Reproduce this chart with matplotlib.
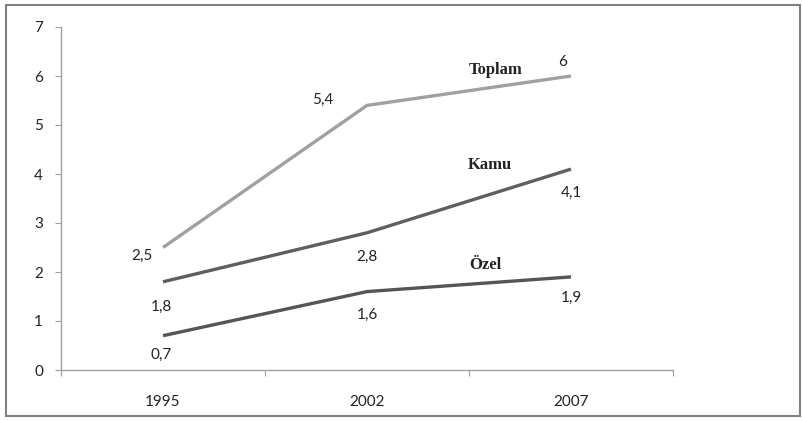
"""Toplam / Kamu / Özel line chart, 1995-2007."""
import matplotlib
matplotlib.use("Agg")
import matplotlib.pyplot as plt
from matplotlib.patches import Rectangle

years = ["1995", "2002", "2007"]
toplam = [2.5, 5.4, 6.0]
kamu = [1.8, 2.8, 4.1]
ozel = [0.7, 1.6, 1.9]
series_names = ["Toplam", "Kamu", "Özel"]

# value label offsets (points) per series, per point
offsets = {
    "Toplam": [(-15, -6), (-32, 4), (-6, 10)],
    "Kamu": [(-1, -18), (0, -17), (0, -17)],
    "Özel": [(-1, -14), (0, -17), (0, -15)],
}
name_pos = {"Toplam": (1.63, 6.12), "Kamu": (1.60, 4.18), "Özel": (1.58, 2.14)}
colors = {"Toplam": "#a0a0a0", "Kamu": "#5f5f5f", "Özel": "#555555"}

plt.rcParams["font.family"] = ["Lato", "DejaVu Sans"]

fig = plt.figure(figsize=(8.03, 4.21), dpi=100)
fig.patches.append(Rectangle((6 / 803, 5 / 421), 794 / 803, 411 / 421, transform=fig.transFigure,
                             fill=False, edgecolor="#808080", linewidth=1.5))
ax = fig.add_axes([61 / 803, 51 / 421, 612 / 803, 343 / 421])

x = list(range(len(years)))
for name, vals in zip(series_names, [toplam, kamu, ozel]):
    ax.plot(x, vals, color=colors[name], linewidth=2.4, solid_capstyle="butt")
    for i, v in enumerate(vals):
        lab = f"{v:g}".replace(".", ",")
        ax.annotate(lab, (i, v), xytext=offsets[name][i], textcoords="offset points",
                    ha="center", va="center", fontsize=11, color="#222222")
    nx, ny = name_pos[name]
    ax.text(nx, ny, name, ha="center", va="center", fontsize=12, fontweight="bold",
            family="Liberation Serif", color="#222222")

ax.set_xlim(-0.5, 2.5)
ax.set_ylim(0, 7)
ax.set_yticks(range(0, 8))
ax.set_xticks([-0.5, 0.5, 1.5, 2.5])
ax.set_xticklabels([])
ax.set_xticks(x, minor=True)
ax.set_xticklabels(years, minor=True)
ax.tick_params(axis="x", which="major", length=4, color="#a0a0a0", direction="out")
ax.tick_params(axis="x", which="minor", length=0, pad=18, labelsize=11, labelcolor="#222222")
ax.tick_params(axis="y", length=4, color="#a0a0a0", pad=9, labelsize=11, labelcolor="#222222")
for s in ["top", "right"]:
    ax.spines[s].set_visible(False)
for s in ["left", "bottom"]:
    ax.spines[s].set_color("#a0a0a0")
    ax.spines[s].set_linewidth(1)

fig.savefig("out.png", dpi=100)
